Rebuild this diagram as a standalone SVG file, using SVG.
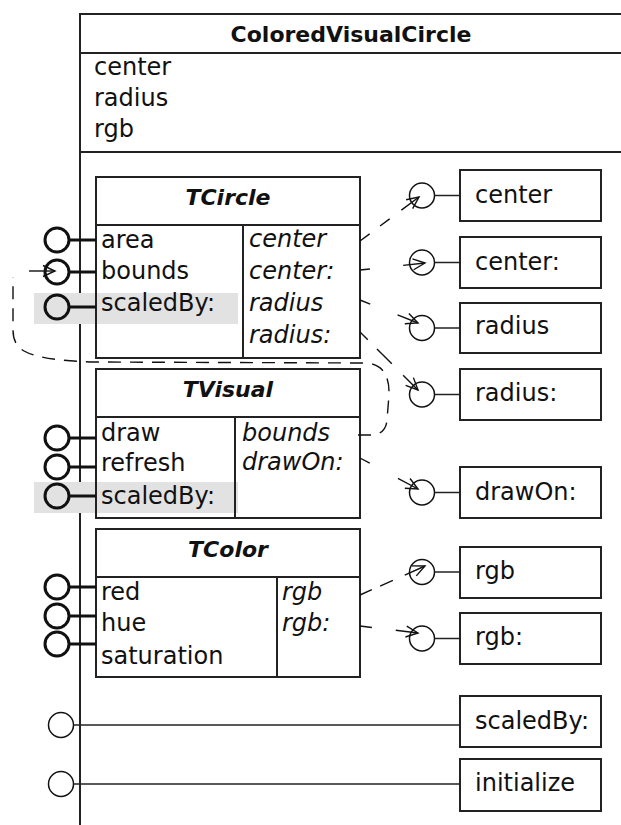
<svg xmlns="http://www.w3.org/2000/svg" width="621" height="825" viewBox="0 0 621 825">
  <style>
    text { font-family: "DejaVu Sans", "Liberation Sans", sans-serif; font-size: 24px; fill: #111; }
    .title { font-size: 22px; font-weight: bold; text-anchor: middle; }
    .ital { font-style: italic; }
    .frame { fill: none; stroke: #222; stroke-width: 2; }
    .box { fill: #fff; stroke: #222; stroke-width: 2; }
    .sep { stroke: #222; stroke-width: 2; }
    .hl { fill: #e2e2e2; }
    .plug { fill: none; stroke: #111; stroke-width: 3; }
    .plugline { stroke: #111; stroke-width: 3; }
    .sock { fill: none; stroke: #111; stroke-width: 1.5; }
    .wire { stroke: #222; stroke-width: 1.5; }
    .dep { fill: none; stroke: #111; stroke-width: 1.4; }
  </style>
  <defs>
    <marker id="open" markerUnits="userSpaceOnUse" markerWidth="16" markerHeight="14" viewBox="-13 -7 16 14" refX="0" refY="0" orient="auto">
      <path d="M -12 -5.5 L 0 0 L -12 5.5" fill="none" stroke="#111" stroke-width="1.4"/>
    </marker>
  </defs>

  <rect width="621" height="825" fill="#fff"/>

  <!-- composite class frame -->
  <g id="ColoredVisualCircle">
    <rect class="frame" x="80" y="14" width="600" height="900"/>
    <line class="sep" x1="80" y1="53" x2="621" y2="53"/>
    <line class="sep" x1="80" y1="152" x2="621" y2="152"/>
    <text class="title" x="351" y="42">ColoredVisualCircle</text>
    <text x="94" y="75">center</text>
    <text x="94" y="106">radius</text>
    <text x="94" y="137">rgb</text>
  </g>

  <!-- trait TCircle -->
  <g id="TCircle">
    <rect class="hl" x="34" y="293" width="204" height="31"/>
    <rect class="box" x="96" y="177" width="264" height="181"/>
    <rect class="hl" x="97" y="293" width="141" height="31"/>
    <line class="sep" x1="96" y1="225" x2="360" y2="225"/>
    <line class="sep" x1="243" y1="225" x2="243" y2="358"/>
    <text class="title ital" x="228" y="205">TCircle</text>
    <text x="101" y="248">area</text>
    <text x="101" y="279">bounds</text>
    <text x="101" y="311">scaledBy:</text>
    <text class="ital" x="249" y="247">center</text>
    <text class="ital" x="249" y="279">center:</text>
    <text class="ital" x="249" y="311">radius</text>
    <text class="ital" x="249" y="343">radius:</text>
    <circle class="plug" cx="57" cy="240" r="12"/>
    <line class="plugline" x1="69" y1="240" x2="96" y2="240"/>
    <circle class="plug" cx="57" cy="272" r="12"/>
    <line class="plugline" x1="69" y1="272" x2="96" y2="272"/>
    <circle class="plug" cx="57" cy="307" r="12"/>
    <line class="plugline" x1="69" y1="307" x2="96" y2="307"/>
  </g>

  <!-- trait TVisual -->
  <g id="TVisual">
    <rect class="hl" x="34" y="482" width="204" height="31"/>
    <rect class="box" x="96" y="369" width="264" height="149"/>
    <rect class="hl" x="97" y="482" width="141" height="31"/>
    <line class="sep" x1="96" y1="417" x2="360" y2="417"/>
    <line class="sep" x1="235" y1="417" x2="235" y2="518"/>
    <text class="title ital" x="228" y="397">TVisual</text>
    <text x="101" y="441">draw</text>
    <text x="101" y="471">refresh</text>
    <text x="101" y="504">scaledBy:</text>
    <text class="ital" x="242" y="441">bounds</text>
    <text class="ital" x="242" y="470">drawOn:</text>
    <circle class="plug" cx="57" cy="438" r="12"/>
    <line class="plugline" x1="69" y1="438" x2="96" y2="438"/>
    <circle class="plug" cx="57" cy="467" r="12"/>
    <line class="plugline" x1="69" y1="467" x2="96" y2="467"/>
    <circle class="plug" cx="57" cy="496" r="12"/>
    <line class="plugline" x1="69" y1="496" x2="96" y2="496"/>
  </g>

  <!-- trait TColor -->
  <g id="TColor">
    <rect class="box" x="96" y="529" width="264" height="148"/>
    <line class="sep" x1="96" y1="577" x2="360" y2="577"/>
    <line class="sep" x1="277" y1="577" x2="277" y2="677"/>
    <text class="title ital" x="228" y="557">TColor</text>
    <text x="101" y="600">red</text>
    <text x="101" y="631">hue</text>
    <text x="101" y="664">saturation</text>
    <text class="ital" x="282" y="600">rgb</text>
    <text class="ital" x="282" y="631">rgb:</text>
    <circle class="plug" cx="57" cy="587" r="12"/>
    <line class="plugline" x1="69" y1="587" x2="96" y2="587"/>
    <circle class="plug" cx="57" cy="616" r="12"/>
    <line class="plugline" x1="69" y1="616" x2="96" y2="616"/>
    <circle class="plug" cx="57" cy="644" r="12"/>
    <line class="plugline" x1="69" y1="644" x2="96" y2="644"/>
  </g>

  <!-- glue methods provided by the composite -->
  <g id="m-center">
    <circle class="sock" cx="422" cy="195.5" r="12.5"/>
    <line class="wire" x1="434.5" y1="195.5" x2="460" y2="195.5"/>
    <rect class="box" x="460" y="170" width="141" height="51"/>
    <text x="475" y="203">center</text>
  </g>
  <g id="m-center-set">
    <circle class="sock" cx="422" cy="262.5" r="12.5"/>
    <line class="wire" x1="434.5" y1="262.5" x2="460" y2="262.5"/>
    <rect class="box" x="460" y="237" width="141" height="51"/>
    <text x="475" y="270">center:</text>
  </g>
  <g id="m-radius">
    <circle class="sock" cx="422" cy="328" r="12.5"/>
    <line class="wire" x1="434.5" y1="328" x2="460" y2="328"/>
    <rect class="box" x="460" y="303" width="141" height="50"/>
    <text x="475" y="334">radius</text>
  </g>
  <g id="m-radius-set">
    <circle class="sock" cx="422" cy="394.5" r="12.5"/>
    <line class="wire" x1="434.5" y1="394.5" x2="460" y2="394.5"/>
    <rect class="box" x="460" y="369" width="141" height="51"/>
    <text x="475" y="401">radius:</text>
  </g>
  <g id="m-drawOn">
    <circle class="sock" cx="422" cy="492.5" r="12.5"/>
    <line class="wire" x1="434.5" y1="492.5" x2="460" y2="492.5"/>
    <rect class="box" x="460" y="467" width="141" height="51"/>
    <text x="475" y="500">drawOn:</text>
  </g>
  <g id="m-rgb">
    <circle class="sock" cx="422" cy="572" r="12.5"/>
    <line class="wire" x1="434.5" y1="572" x2="460" y2="572"/>
    <rect class="box" x="460" y="547" width="141" height="51"/>
    <text x="475" y="579">rgb</text>
  </g>
  <g id="m-rgb-set">
    <circle class="sock" cx="422" cy="638.5" r="12.5"/>
    <line class="wire" x1="434.5" y1="638.5" x2="460" y2="638.5"/>
    <rect class="box" x="460" y="613" width="141" height="51"/>
    <text x="475" y="645">rgb:</text>
  </g>
  <g id="m-scaledBy">
    <circle class="sock" cx="61" cy="725" r="12.5"/>
    <line class="wire" x1="73.5" y1="725" x2="460" y2="725"/>
    <rect class="box" x="460" y="696" width="141" height="51"/>
    <text x="475" y="729">scaledBy:</text>
  </g>
  <g id="m-initialize">
    <circle class="sock" cx="61" cy="784" r="12.5"/>
    <line class="wire" x1="73.5" y1="784" x2="460" y2="784"/>
    <rect class="box" x="460" y="759" width="141" height="52"/>
    <text x="475" y="791">initialize</text>
  </g>

  <!-- required-method bindings -->
  <g id="connectors">
    <path class="dep" d="M 360 241 L 419 197" stroke-dasharray="12 13 12 14.6 22 50" marker-end="url(#open)"/>
    <path class="dep" d="M 360 270 L 425 263" stroke-dasharray="10 33.4 22 50" marker-end="url(#open)"/>
    <path class="dep" d="M 360 300 L 418 323" stroke-dasharray="11 29.4 22 50" marker-end="url(#open)"/>
    <path class="dep" d="M 360 332 L 418 390" stroke-dasharray="11 13 21 16 21 50" marker-end="url(#open)"/>
    <path class="dep" d="M 360 458 L 418 489" stroke-dasharray="11 32 22.8 50" marker-end="url(#open)"/>
    <path class="dep" d="M 360 595 L 425 566" stroke-dasharray="13 9 14 13 22.2 50" marker-end="url(#open)"/>
    <path class="dep" d="M 360 626 L 418 633" stroke-dasharray="12 24 22.4 50" marker-end="url(#open)"/>
    <g id="bounds-binding">
      <path class="dep" d="M 358 435 L 372 435 Q 386 434 387 420 L 389 395 Q 390 364 365 363 L 90 362 Q 40 360 24 351 Q 13 345 13 330 L 13 277" stroke-dasharray="13 9"/>
      <path class="dep" d="M 29 271 L 55 271" marker-end="url(#open)"/>
    </g>
  </g>
</svg>
